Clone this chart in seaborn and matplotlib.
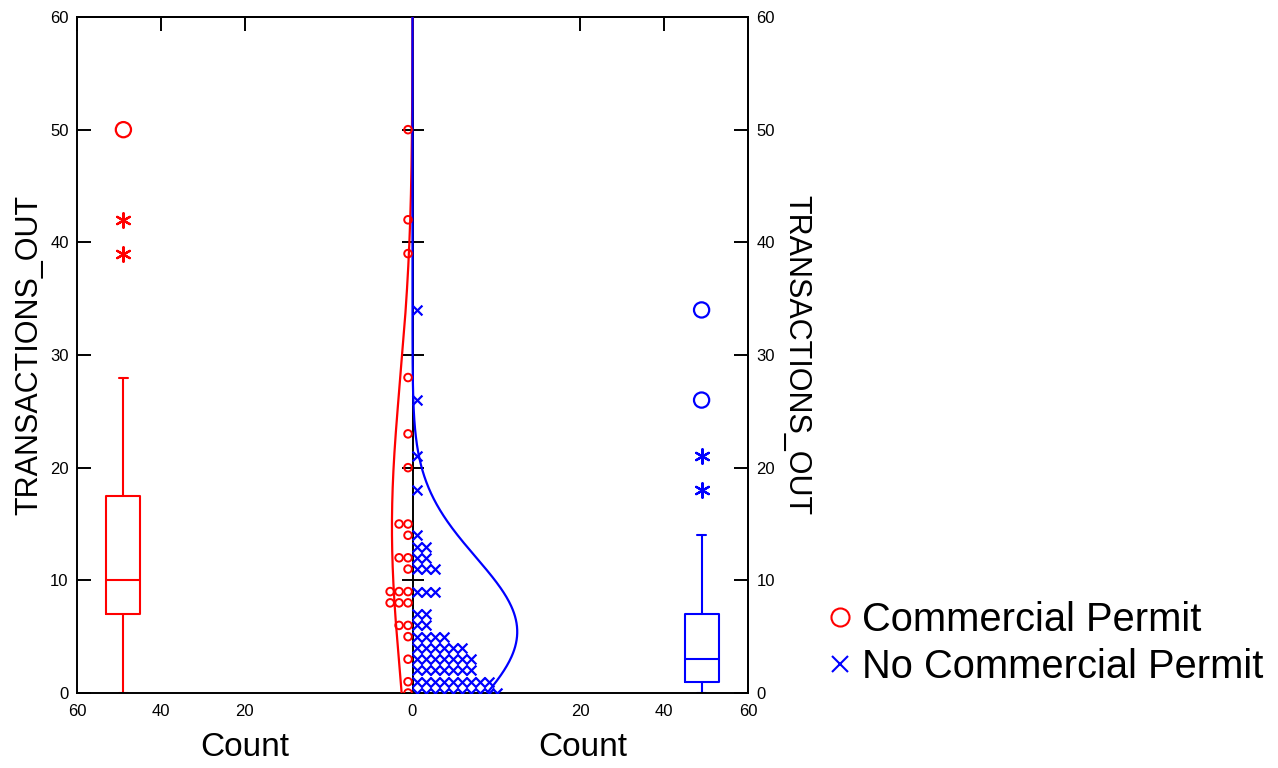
import numpy as np
import pandas as pd
import matplotlib
matplotlib.use("Agg")
import matplotlib.pyplot as plt
from matplotlib.lines import Line2D
import seaborn as sns

# TRANSACTIONS_OUT values and the number of cases sharing each value
commercial_values = [0, 1, 3, 5, 6, 8, 9, 11, 12, 14, 15, 20, 23, 28, 39, 42, 50]
commercial_counts = [1, 1, 1, 1, 2, 3, 3, 1, 2, 1, 2, 1, 1, 1, 1, 1, 1]
none_values = [0, 1, 2, 3, 4, 5, 6, 7, 9, 11, 12, 13, 14, 18, 21, 26, 34]
none_counts = [10, 9, 7, 7, 6, 4, 2, 2, 3, 3, 2, 2, 1, 1, 1, 1, 1]

group_names = ["Commercial Permit", "No Commercial Permit"]
y_ticks = [0, 10, 20, 30, 40, 50, 60]
count_ticks = [-60, -45, -30, 0, 30, 45, 60]
count_labels = ["60", "40", "20", "0", "20", "40", "60"]

RED = "#ff0000"
BLUE = "#0000ff"
DOT_STEP = 1.6      # spacing of stacked symbols along the count axis
BOX_POS = 51.7      # where the box plots sit on the count axis
BOX_WIDTH = 6.1
BIN_WIDTH = 5       # scales the normal curves to counts

sns.set_theme(style="ticks")
plt.rcParams["font.family"] = ["Liberation Sans", "DejaVu Sans"]
plt.rcParams["axes.linewidth"] = 1.4
for key in ["text.color", "axes.labelcolor", "xtick.color", "ytick.color",
            "axes.edgecolor"]:
    plt.rcParams[key] = "black"

fig = plt.figure(figsize=(12.78, 7.68), dpi=100)
ax = fig.add_axes([77 / 1278, 75 / 768, 671 / 1278, 676 / 768])
ax.set_xlim(-60, 60)
ax.set_ylim(0, 60)


def expand(values, counts):
    return np.repeat(np.asarray(values, float), counts)


def stacked(values, counts, side):
    xs, ys = [], []
    for v, c in zip(values, counts):
        for k in range(c):
            xs.append(side * DOT_STEP * (k + 0.5))
            ys.append(v)
    return pd.DataFrame({"count": xs, "value": ys})


def tukey_stats(data, label):
    d = np.sort(data)
    n = len(d)
    if n % 2:
        lo, hi = np.median(d[: n // 2 + 1]), np.median(d[n // 2:])
    else:
        lo, hi = np.median(d[: n // 2]), np.median(d[n // 2:])
    step = hi - lo
    inner_hi, inner_lo = hi + 1.5 * step, lo - 1.5 * step
    outer_hi, outer_lo = hi + 3 * step, lo - 3 * step
    inside = d[(d >= inner_lo) & (d <= inner_hi)]
    stats = dict(med=np.median(d), q1=lo, q3=hi, whislo=inside.min(),
                 whishi=inside.max(), fliers=[], label=label)
    near = d[((d > inner_hi) & (d <= outer_hi)) | ((d < inner_lo) & (d >= outer_lo))]
    far = d[(d > outer_hi) | (d < outer_lo)]
    return stats, near, far


raw_c = expand(commercial_values, commercial_counts)
raw_n = expand(none_values, none_counts)

# Centre axis line with its own tick marks
centre = ax.secondary_yaxis(0.5)
centre.set_yticks(y_ticks)
centre.tick_params(direction="inout", length=16, width=1.4, labelleft=False,
                   labelright=False, color="black")
centre.spines["left"].set_linewidth(1.6)

# Normal curves scaled to counts
grid = np.linspace(0, 60, 600)
for data, side, color in [(raw_c, -1, RED), (raw_n, 1, BLUE)]:
    mu, sd = data.mean(), data.std(ddof=1)
    dens = len(data) * BIN_WIDTH * np.exp(-0.5 * ((grid - mu) / sd) ** 2) / (sd * np.sqrt(2 * np.pi))
    curve = pd.DataFrame({"count": side * dens, "value": grid})
    sns.lineplot(data=curve, x="count", y="value", sort=False, orient="y",
                 color=color, lw=1.6, ax=ax, zorder=3)

# Stacked symbols for each case
dots_c = stacked(commercial_values, commercial_counts, -1)
dots_n = stacked(none_values, none_counts, 1)
sns.scatterplot(data=dots_c, x="count", y="value", marker="o", s=30,
                facecolor="none", edgecolor=RED, linewidth=1.4, ax=ax, zorder=4)
sns.scatterplot(data=dots_n, x="count", y="value", marker="x", s=50,
                color=BLUE, linewidth=1.6, ax=ax, zorder=4)

# Box plots on both outer sides
for data, pos, color, name in [(raw_c, -BOX_POS, RED, group_names[0]),
                               (raw_n, BOX_POS, BLUE, group_names[1])]:
    st, near, far = tukey_stats(data, name)
    lp = dict(color=color, linewidth=1.5)
    ax.bxp([st], positions=[pos], widths=BOX_WIDTH, capwidths=1.5,
           showfliers=False, manage_ticks=False, boxprops=lp, medianprops=lp,
           whiskerprops=lp, capprops=lp)
    sns.scatterplot(x=np.full(len(near), pos), y=near, marker=(6, 2, 0), s=110,
                    color=color, edgecolor=color, linewidth=1.6, ax=ax, zorder=4)
    sns.scatterplot(x=np.full(len(far), pos), y=far, marker="o", s=120,
                    facecolor="none", edgecolor=color, linewidth=1.6, ax=ax, zorder=4)

# Axes, ticks and labels
ax.set_yticks(y_ticks)
ax.set_xticks(count_ticks)
ax.set_xticklabels(count_labels)
ax.tick_params(axis="y", direction="in", length=10, width=1.4, labelsize=12,
               left=True, right=False, pad=6)
ax.tick_params(axis="x", direction="in", length=0, labelsize=12, pad=8)
right = ax.secondary_yaxis("right")
right.set_yticks(y_ticks)
right.tick_params(direction="in", length=10, width=1.4, labelsize=12, pad=6)
top = ax.secondary_xaxis("top")
top.set_xticks(count_ticks)
top.tick_params(direction="in", length=10, width=1.4, labeltop=False)

ax.set_ylabel("TRANSACTIONS_OUT", fontsize=22, labelpad=4)
right.set_ylabel("TRANSACTIONS_OUT", fontsize=22, rotation=270, labelpad=26)
ax.set_xlabel("")
fig.text(245 / 1278, 1 - 748 / 768, "Count", fontsize=24, ha="center", va="center")
fig.text(583 / 1278, 1 - 748 / 768, "Count", fontsize=24, ha="center", va="center")

handles = [
    Line2D([], [], ls="none", marker="o", markersize=13, markerfacecolor="none",
           markeredgecolor=RED, markeredgewidth=1.5),
    Line2D([], [], ls="none", marker="x", markersize=12, color=BLUE,
           markeredgewidth=1.5),
]
fig.legend(handles, group_names, loc="center left",
           bbox_to_anchor=(824 / 1278, 1 - 643.5 / 768), frameon=False,
           fontsize=28.7, handletextpad=0.16, labelspacing=0.22, handlelength=0.8,
           borderpad=0, borderaxespad=0)

fig.savefig("out.png", dpi=100)
